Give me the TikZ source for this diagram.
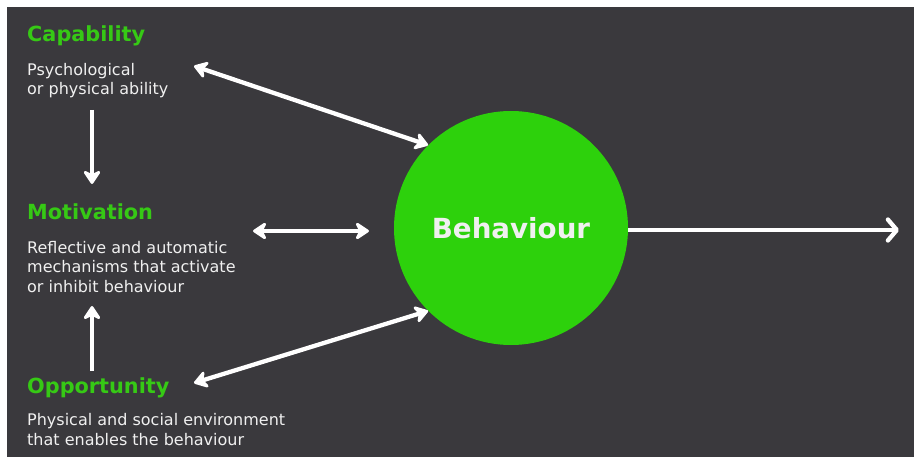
\documentclass[tikz,border=0pt]{standalone}
\usepackage{fontspec}
\setmainfont{DejaVu Sans}
\usetikzlibrary{arrows.meta}
\definecolor{panel}{HTML}{3A393D}
\definecolor{ballgreen}{HTML}{2DD10C}
\definecolor{headgreen}{HTML}{36C915}
\definecolor{bodytext}{HTML}{F0F0F0}
\tikzset{
  heading/.style={anchor=base west, inner sep=0pt, text=headgreen,
    font=\bfseries\fontsize{20.8}{25}\selectfont},
  % multi-line blurbs are placed by the baseline of their last line
  blurb/.style={anchor=base west, inner sep=0pt, text=bodytext, align=left,
    font=\fontsize{16}{19.5}\selectfont},
  link/.style={color=white, line width=4.3pt},
  head/.tip={Stealth[length=16pt,width=21pt,inset=5pt,round,fill=white]},
  twoway/.style={link, head-head},
  oneway/.style={link, -head},
  outflow/.style={link, -{Straight Barb[length=9pt,width=21pt,line width=4.3pt,round]}}
}
\begin{document}
\begin{tikzpicture}[x=1pt,y=-1pt]
  % frame and dark panel
  \fill[white] (0,0) rectangle (915,457);
  \fill[panel] (7,7) rectangle (914,457);
  \useasboundingbox (0,0) rectangle (915,457);

  % the central circle
  \node[circle, fill=ballgreen, minimum size=234pt, inner sep=0pt,
        text=bodytext, font=\bfseries\fontsize{27.7}{32}\selectfont] (beh) at (511,228) {Behaviour};

  % the three components
  \node[heading] (cap) at (27,42) {Capability};
  \node[blurb] (capdesc) at (27,95) {Psychological\\or physical ability};
  \node[heading] (mot) at (27,219) {Motivation};
  \node[blurb] (motdesc) at (27,292) {Reflective and automatic\\mechanisms that activate\\or inhibit behaviour};
  \node[heading] (opp) at (27,393) {Opportunity};
  \node[blurb] (oppdesc) at (27,445) {Physical and social environment\\that enables the behaviour};

  % free ends of the connectors
  \coordinate (capend) at (194,66);
  \coordinate (motL) at (253,231);
  \coordinate (motR) at (369,231);
  \coordinate (oppend) at (194,383);
  \coordinate (capdown0) at (92,110);
  \coordinate (capdown1) at (92,184);
  \coordinate (oppup0) at (92,371);
  \coordinate (oppup1) at (92,306);
  \coordinate (result) at (899,230);

  % connectors
  \draw[twoway] (capend) -- (beh.135);
  \draw[twoway] (motL) -- (motR);
  \draw[twoway] (oppend) -- (beh.225);
  \draw[oneway] (capdown0) -- (capdown1);
  \draw[oneway] (oppup0) -- (oppup1);
  \draw[outflow] (beh.east |- result) -- (result);
\end{tikzpicture}
\end{document}
